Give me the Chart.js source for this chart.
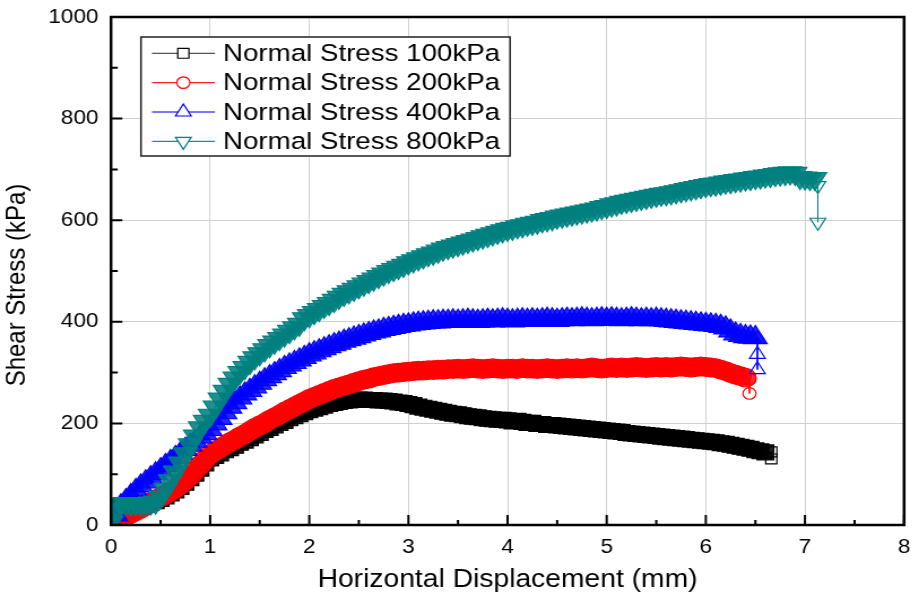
<!DOCTYPE html>
<html>
<head>
<meta charset="utf-8">
<script src="https://cdn.jsdelivr.net/npm/chart.js@4.4.1/dist/chart.umd.min.js"></script>
<style>
  html, body { margin: 0; padding: 0; background: #fff; overflow: hidden; }
  /* the plot is drawn a bit narrower and widened with css */
  #wrap { width: 813px; height: 599px; transform: scaleX(1.1304); transform-origin: 0 0; }
</style>
</head>
<body>
<div id="wrap"><canvas id="shearChart" width="813" height="599"></canvas></div>
<script>
// horizontal displacement (mm), shared by all four tests
let disp = [
  0, 0.05, 0.1, 0.15, 0.2, 0.25, 0.3, 0.35, 0.4, 0.45,
  0.5, 0.55, 0.6, 0.65, 0.7, 0.75, 0.8, 0.85, 0.9, 0.95,
  1, 1.05, 1.1, 1.15, 1.2, 1.25, 1.3, 1.35, 1.4, 1.45,
  1.5, 1.55, 1.6, 1.65, 1.7, 1.75, 1.8, 1.85, 1.9, 1.95,
  2, 2.05, 2.1, 2.15, 2.2, 2.25, 2.3, 2.35, 2.4, 2.45,
  2.5, 2.55, 2.6, 2.65, 2.7, 2.75, 2.8, 2.85, 2.9, 2.95,
  3, 3.05, 3.1, 3.15, 3.2, 3.25, 3.3, 3.35, 3.4, 3.45,
  3.5, 3.55, 3.6, 3.65, 3.7, 3.75, 3.8, 3.85, 3.9, 3.95,
  4, 4.05, 4.1, 4.15, 4.2, 4.25, 4.3, 4.35, 4.4, 4.45,
  4.5, 4.55, 4.6, 4.65, 4.7, 4.75, 4.8, 4.85, 4.9, 4.95,
  5, 5.05, 5.1, 5.15, 5.2, 5.25, 5.3, 5.35, 5.4, 5.45,
  5.5, 5.55, 5.6, 5.65, 5.7, 5.75, 5.8, 5.85, 5.9, 5.95,
  6, 6.05, 6.1, 6.15, 6.2, 6.25, 6.3, 6.35, 6.4, 6.45,
  6.5, 6.55, 6.6, 6.65, 6.7, 6.75, 6.8, 6.85, 6.9, 6.95,
  7, 7.05, 7.1
]

// shear stress (kPa) for each normal stress
let tau100 = [
  20, 36, 38, 38, 39, 40, 41, 42, 44, 47,
  51, 56, 62, 68, 75, 83, 92, 101, 111, 121,
  131, 136, 141, 147, 151, 156, 162, 166, 171, 176,
  181, 187, 191, 196, 201, 205, 210, 214, 218, 222,
  226, 229, 232, 235, 238, 240, 242, 244, 245, 246,
  247, 247, 246, 246, 245, 245, 244, 243, 241, 240,
  238, 236, 233, 231, 229, 227, 225, 223, 221, 219,
  218, 216, 214, 213, 212, 210, 209, 208, 207, 207,
  206, 204, 205, 203, 201, 201, 199, 199, 197, 197,
  196, 195, 194, 193, 192, 191, 190, 189, 188, 187,
  186, 185, 184, 183, 181, 180, 179, 178, 177, 176,
  175, 174, 173, 172, 171, 170, 169, 168, 167, 166,
  165, 164, 163, 161, 160, 158, 156, 154, 152, 150,
  147, 145, 143
]
let tau200 = [
  0, 6, 12, 17, 22, 27, 32, 38, 44, 50,
  55, 60, 66, 72, 79, 88, 97, 108, 118, 129,
  139, 145, 151, 157, 163, 168, 174, 179, 185, 191,
  196, 201, 207, 212, 217, 223, 228, 233, 238, 243,
  248, 252, 256, 260, 264, 268, 271, 274, 277, 280,
  283, 286, 288, 291, 293, 295, 297, 299, 300, 301,
  302, 303, 304, 304, 305, 305, 306, 306, 307, 307,
  308, 307, 308, 309, 308, 307, 308, 309, 308, 307,
  308, 308, 307, 309, 308, 308, 307, 308, 309, 308,
  307, 308, 309, 308, 309, 308, 309, 310, 309, 308,
  309, 310, 309, 310, 309, 310, 311, 310, 309, 310,
  311, 310, 311, 310, 311, 312, 311, 310, 311, 312,
  311, 310, 309, 306, 303, 299, 296, 293, 290
]
let tau400 = [
  2, 20, 38, 48, 58, 68, 77, 85, 93, 101,
  109, 117, 125, 133, 141, 149, 157, 165, 173, 180,
  188, 199, 210, 221, 232, 241, 250, 258, 265, 272,
  279, 286, 292, 298, 304, 310, 315, 320, 325, 330,
  335, 339, 343, 347, 351, 355, 358, 362, 365, 368,
  371, 374, 377, 380, 382, 385, 387, 389, 391, 393,
  394, 396, 397, 398, 399, 400, 400, 401, 401, 402,
  401, 402, 403, 402, 401, 402, 403, 402, 403, 404,
  403, 402, 403, 404, 403, 404, 403, 404, 405, 404,
  403, 404, 405, 404, 405, 406, 405, 404, 405, 406,
  405, 406, 405, 404, 405, 406, 405, 404, 405, 404,
  405, 404, 403, 402, 401, 400, 399, 398, 397, 396,
  395, 394, 393, 391, 388, 382, 376, 373, 371, 370,
  369
]
let tau800 = [
  5, 30, 41, 42, 41, 42, 41, 42, 43, 45,
  55, 70, 87, 104, 122, 140, 158, 175, 191, 204,
  216, 232, 248, 263, 277, 289, 300, 310, 320, 329,
  337, 345, 353, 360, 367, 374, 381, 388, 395, 406,
  412, 418, 424, 430, 436, 442, 448, 454, 459, 464,
  469, 474, 479, 484, 489, 494, 499, 503, 507, 511,
  516, 520, 524, 528, 532, 535, 539, 543, 546, 549,
  552, 555, 558, 561, 564, 567, 570, 573, 576, 579,
  582, 584, 587, 589, 592, 594, 596, 599, 601, 603,
  606, 608, 610, 612, 614, 616, 618, 620, 622, 625,
  627, 630, 632, 635, 637, 639, 641, 643, 645, 647,
  649, 651, 652, 654, 656, 658, 660, 662, 664, 666,
  668, 670, 671, 673, 675, 676, 678, 679, 681, 682,
  684, 685, 687, 688, 690, 691, 692, 693, 692, 684,
  683, 682, 682
]

// last readings at failure, taken at one displacement
let endX100 = [6.66, 6.66]
let endY100 = [144, 130]
let endX200 = [6.44, 6.44]
let endY200 = [287, 259]
let endX400 = [6.52, 6.52, 6.52]
let endY400 = [366, 336, 306]
let endX800 = [7.13, 7.13]
let endY800 = [668, 596]

let seriesLabels = ["Normal Stress 100kPa", "Normal Stress 200kPa", "Normal Stress 400kPa", "Normal Stress 800kPa"]
let xTickVals = [0, 1, 2, 3, 4, 5, 6, 7, 8]
let xMinorVals = [0.5, 1.5, 2.5, 3.5, 4.5, 5.5, 6.5, 7.5]
let yTickVals = [0, 200, 400, 600, 800, 1000]
let yMinorVals = [100, 300, 500, 700, 900]

let font = '"Liberation Sans", Arial, sans-serif'

function pts(ys, ex, ey) {
  let p = ys.map((y, i) => ({ x: disp[i], y: y }))
  ex.forEach((x, i) => p.push({ x: x, y: ey[i] }))
  return p
}

// radius = lone marker, band = marker inside the dense run
let looks = [
  { color: "#000000", fill: "rgba(0,0,0,0.88)", line: "#555555", style: "rect", radius: 7, band: 10.5, rotation: 0 },
  { color: "#ff0000", fill: "rgba(255,0,0,0.82)", line: "#ff2020", style: "circle", radius: 5.8, band: 9.3, rotation: 0 },
  { color: "#0000ff", fill: "rgba(0,0,255,0.85)", line: "#4a4aff", style: "triangle", radius: 8, band: 12, rotation: 0 },
  { color: "#008080", fill: "rgba(0,128,128,0.88)", line: "#1a9090", style: "triangle", radius: 8, band: 12, rotation: 180 }
]

let bodies = [tau100, tau200, tau400, tau800]
let allData = [
  pts(tau100, endX100, endY100),
  pts(tau200, endX200, endY200),
  pts(tau400, endX400, endY400),
  pts(tau800, endX800, endY800)
]

// the dense run of readings reads as a solid band, the lone end points stay hollow
let datasets = allData.map((d, i) => ({
  label: seriesLabels[i],
  data: d,
  order: 3 - i,
  borderColor: looks[i].color,
  backgroundColor: "transparent",
  borderWidth: 1,
  pointStyle: looks[i].style,
  pointRotation: looks[i].rotation,
  pointRadius: d.map((p, k) => k < bodies[i].length ? looks[i].band : looks[i].radius),
  pointBorderWidth: 1.2,
  pointBorderColor: looks[i].color,
  pointBackgroundColor: d.map((p, k) => k < bodies[i].length ? looks[i].fill : "rgba(255,255,255,0)"),
  tension: 0
}))

// box round the plot plus inward ticks
let frame = {
  id: "frame",
  afterDatasetsDraw(chart) {
    let ctx = chart.ctx, a = chart.chartArea
    let x = chart.scales.x, y = chart.scales.y
    ctx.save()
    ctx.strokeStyle = "#000"
    ctx.lineWidth = 2
    ctx.beginPath()
    xTickVals.forEach(v => { let px = x.getPixelForValue(v); ctx.moveTo(px, a.bottom); ctx.lineTo(px, a.bottom - 10) })
    xMinorVals.forEach(v => { let px = x.getPixelForValue(v); ctx.moveTo(px, a.bottom); ctx.lineTo(px, a.bottom - 5) })
    yTickVals.forEach(v => { let py = y.getPixelForValue(v); ctx.moveTo(a.left, py); ctx.lineTo(a.left + 10, py) })
    yMinorVals.forEach(v => { let py = y.getPixelForValue(v); ctx.moveTo(a.left, py); ctx.lineTo(a.left + 6, py) })
    ctx.stroke()
    ctx.lineWidth = 2.5
    ctx.strokeRect(a.left, a.top, a.right - a.left, a.bottom - a.top)
    ctx.restore()
  }
}

// legend box in the top-left corner and the vertical axis title
let legendBox = {
  id: "legendBox",
  afterDraw(chart) {
    let ctx = chart.ctx
    ctx.save()
    ctx.fillStyle = "#fff"
    ctx.fillRect(124.7, 37, 326.5, 119)
    ctx.strokeStyle = "#222"
    ctx.lineWidth = 1.5
    ctx.strokeRect(124.7, 37, 326.5, 119)
    seriesLabels.forEach((lbl, i) => {
      let cy = 53.3 + i * 29.35
      let lk = looks[i]
      ctx.strokeStyle = lk.line
      ctx.lineWidth = 1.3
      ctx.beginPath()
      ctx.moveTo(134.5, cy)
      ctx.lineTo(190.2, cy)
      ctx.stroke()
      ctx.fillStyle = "#fff"
      ctx.strokeStyle = lk.color
      ctx.lineWidth = 1.2
      Chart.helpers.drawPoint(ctx, { pointStyle: lk.style, rotation: lk.rotation, radius: lk.radius, borderWidth: 1.2 }, 162.2, cy)
      ctx.fillStyle = "#000"
      ctx.font = "24.5px " + font
      ctx.textBaseline = "middle"
      ctx.textAlign = "left"
      ctx.fillText(lbl, 197.3, cy + 1)
    })
    ctx.translate(15.5, 285)
    ctx.rotate(-Math.PI / 2)
    ctx.fillStyle = "#000"
    ctx.font = "24px " + font
    ctx.textAlign = "center"
    ctx.textBaseline = "middle"
    ctx.fillText("Shear Stress (kPa)", 0, 0)
    ctx.restore()
  }
}

new Chart(document.getElementById("shearChart"), {
  type: "line",
  data: { datasets: datasets },
  plugins: [frame, legendBox],
  options: {
    responsive: false,
    animation: false,
    layout: { padding: { left: 0, right: 6.5, top: 17, bottom: 0 } },
    plugins: { legend: { display: false }, tooltip: { enabled: false } },
    scales: {
      x: {
        type: "linear", min: 0, max: 8,
        afterBuildTicks: s => { s.ticks = xTickVals.map(v => ({ value: v })) },
        afterFit: s => { s.height = 74; s.paddingLeft = 0; s.paddingRight = 0 },
        grid: { color: "#d0d0d0", lineWidth: 1, drawTicks: false },
        border: { display: false },
        ticks: { padding: 10, color: "#000", font: { family: font, size: 20 }, maxRotation: 0, autoSkip: false, callback: v => String(v) },
        title: { display: true, text: "Horizontal Displacement (mm)", color: "#000", font: { family: font, size: 25, lineHeight: 1.2 }, padding: { top: 0, bottom: 4 } }
      },
      y: {
        type: "linear", min: 0, max: 1000,
        afterBuildTicks: s => { s.ticks = yTickVals.map(v => ({ value: v })) },
        afterFit: s => { s.width = 98.2; s.paddingTop = 0; s.paddingBottom = 0 },
        grid: { color: "#d0d0d0", lineWidth: 1, drawTicks: false },
        border: { display: false },
        ticks: { padding: 11, color: "#000", font: { family: font, size: 20 }, autoSkip: false, callback: v => String(v) }
      }
    }
  }
})
</script>
</body>
</html>
